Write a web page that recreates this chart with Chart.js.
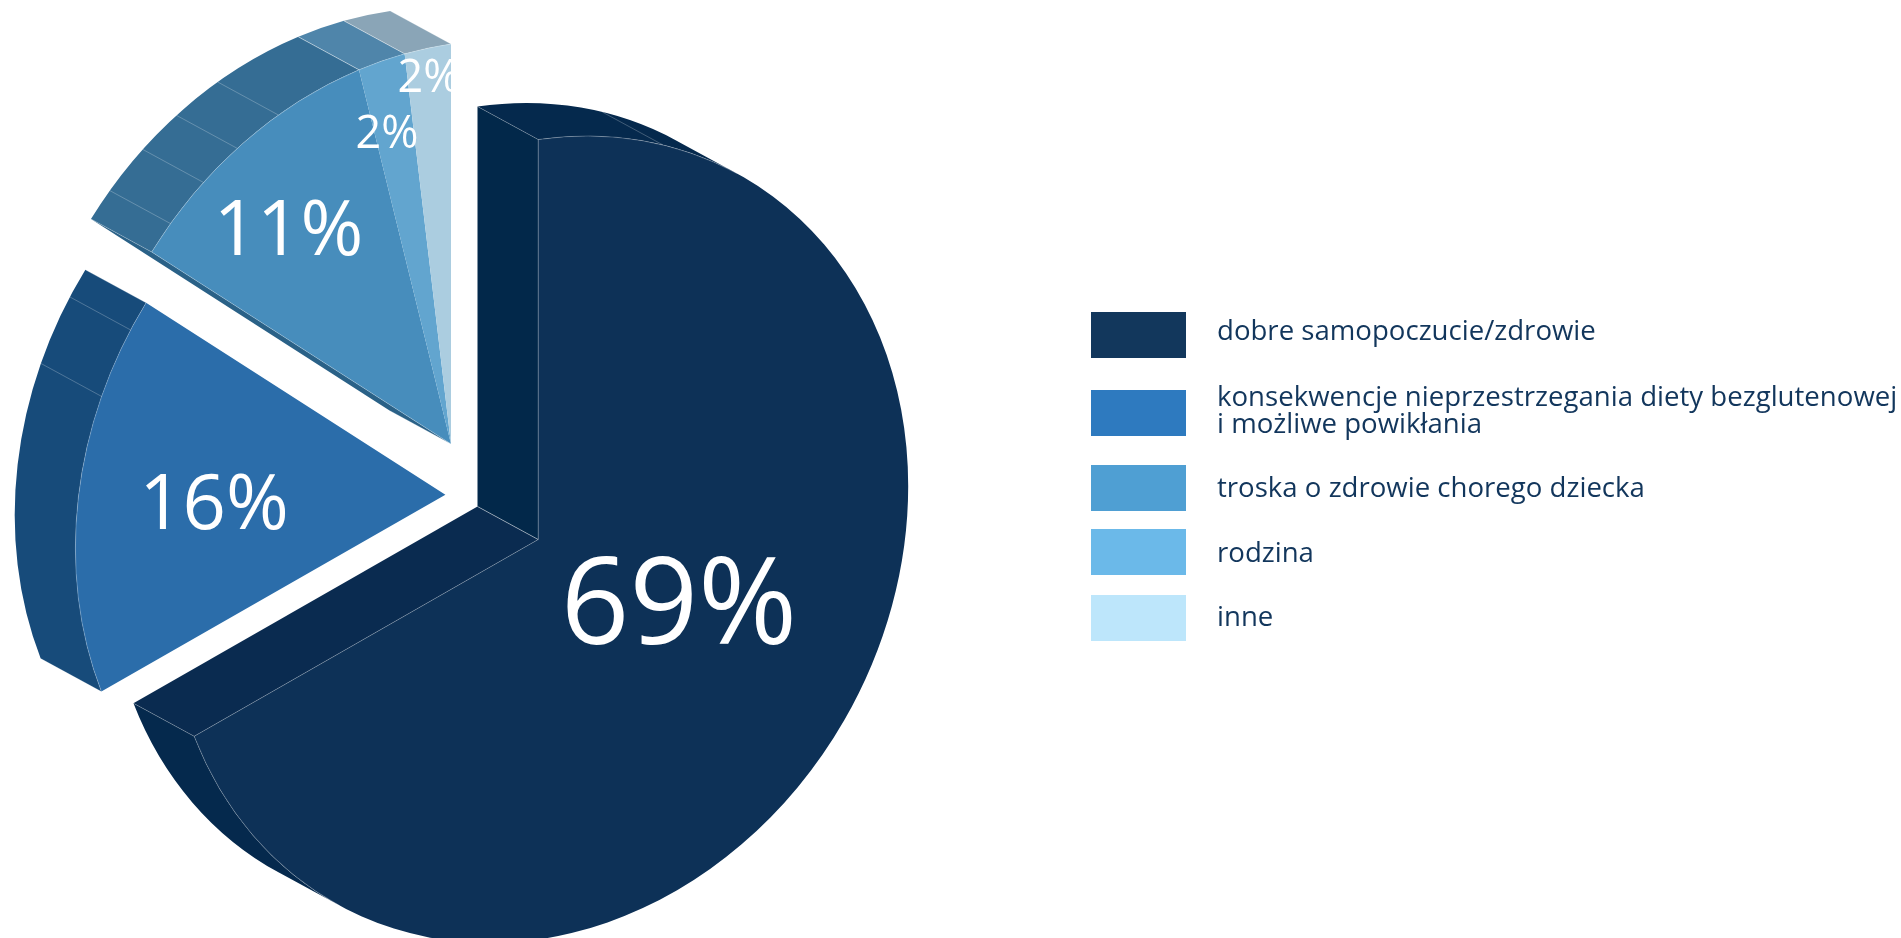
<!DOCTYPE html>
<html lang="pl">
<head>
<meta charset="utf-8">
<title>Wykres kołowy</title>
<script src="https://cdn.jsdelivr.net/npm/chart.js@4"></script>
<style>
  html, body { margin: 0; padding: 0; background: #fff; overflow: hidden; }
  canvas { display: block; }
</style>
</head>
<body>
<canvas id="pie" width="1901" height="938"></canvas>
<script>
'use strict';

// Chart data
const categories = [
  ['dobre samopoczucie/zdrowie'],
  ['konsekwencje nieprzestrzegania diety bezglutenowej', 'i możliwe powikłania'],
  ['troska o zdrowie chorego dziecka'],
  ['rodzina'],
  ['inne']
];
const shares = [69, 16, 11, 2, 2];

// Slice colours: top face, outer wall, legend swatch
const topColors = ['#0d3157', '#2b6daa', '#478dbc', '#62a5cf', '#abcde0'];
const wallColors = ['#05294d', '#174b7a', '#356d94', '#4f85aa', '#8aa5b7'];
const legendColors = ['#12375c', '#2e7abf', '#4f9fd3', '#6bb9e9', '#bde6fb'];
const legendTextColor = '#12365c';

// Flat side faces at each end of a slice (null where there is none to see)
const startFaceColors = ['#02284a', null, '#2a6187', null, null];
const endFaceColors = ['#0a2b50', null, null, null, null];

// Thin seams across the outer wall, degrees clockwise from twelve o'clock
const wallSeams = [[19.7], [291.7, 301.7], [310.7, 318, 324.7, 332.2], [], []];

// Tilted disc: where the horizontal and vertical radii end up on the page
const disc = { rx: 370, shear: -53.3, ry: 400 };
const depth = { x: -60.7, y: -33 };

// Page position of each slice's tip; the last three are pulled out as one block
const tips = [
  { x: 538.2, y: 539.5 },
  { x: 445.4, y: 494.8 },
  { x: 451, y: 444 },
  { x: 451, y: 444 },
  { x: 451, y: 444 }
];

const valueLabels = [
  { x: 679, y: 644, size: 120 },
  { x: 214, y: 529, size: 76 },
  { x: 288.5, y: 255, size: 76 },
  { x: 387, y: 148, size: 45 },
  { x: 429, y: 92, size: 45, clipRight: 451 }
];

const legendRows = [
  { top: 312, baselines: [340] },
  { top: 390, baselines: [406, 433] },
  { top: 465, baselines: [497] },
  { top: 529, baselines: [562] },
  { top: 595, baselines: [626] }
];
const swatch = { x: 1091, width: 95, height: 46 };
const legendTextX = 1217;
const FONT = '"Open Sans", sans-serif';
const SEAM = 'rgba(255,255,255,0.3)';

// Point the context at the tilted disc, with the chart's centre moved to (ox, oy)
function useDisc(ctx, arc, ox, oy) {
  const r = arc.outerRadius;
  const a = disc.rx / r, b = disc.shear / r, d = disc.ry / r;
  ctx.setTransform(a, b, 0, d, ox - a * arc.x, oy - b * arc.x - d * arc.y);
}

function rim(arc, angle) {
  return {
    x: arc.x + arc.outerRadius * Math.cos(angle),
    y: arc.y + arc.outerRadius * Math.sin(angle)
  };
}

// Parts of a slice whose outer wall faces the viewer
function visibleSpans(arc) {
  const ux = depth.x / disc.rx;
  const uy = (depth.y - disc.shear * ux) / disc.ry;
  const mid = Math.atan2(uy, ux);
  const spans = [];
  [-2 * Math.PI, 0, 2 * Math.PI].forEach(function (turn) {
    const from = Math.max(arc.startAngle, mid - Math.PI / 2 + turn);
    const to = Math.min(arc.endAngle, mid + Math.PI / 2 + turn);
    if (to > from) spans.push([from, to]);
  });
  return spans;
}

function drawWall(ctx, arc, tip, from, to, color) {
  useDisc(ctx, arc, tip.x, tip.y);
  ctx.beginPath();
  ctx.arc(arc.x, arc.y, arc.outerRadius, from, to);
  useDisc(ctx, arc, tip.x + depth.x, tip.y + depth.y);
  ctx.arc(arc.x, arc.y, arc.outerRadius, to, from, true);
  ctx.closePath();
  ctx.fillStyle = color;
  ctx.fill();
}

function drawFace(ctx, arc, tip, angle, color) {
  const p = rim(arc, angle);
  useDisc(ctx, arc, tip.x, tip.y);
  ctx.beginPath();
  ctx.moveTo(arc.x, arc.y);
  ctx.lineTo(p.x, p.y);
  useDisc(ctx, arc, tip.x + depth.x, tip.y + depth.y);
  ctx.lineTo(p.x, p.y);
  ctx.lineTo(arc.x, arc.y);
  ctx.closePath();
  ctx.fillStyle = color;
  ctx.fill();
}

// Add a line across the wall at one angle to the current path
function traceSeam(ctx, arc, tip, angle) {
  const p = rim(arc, angle);
  useDisc(ctx, arc, tip.x, tip.y);
  ctx.moveTo(p.x, p.y);
  useDisc(ctx, arc, tip.x + depth.x, tip.y + depth.y);
  ctx.lineTo(p.x, p.y);
}

function traceLines(ctx, arc, i) {
  const tip = tips[i];
  visibleSpans(arc).forEach(function (span) {
    useDisc(ctx, arc, tip.x, tip.y);
    const start = rim(arc, span[0]);
    ctx.moveTo(start.x, start.y);
    ctx.arc(arc.x, arc.y, arc.outerRadius, span[0], span[1]);
    // seam at the slice's own ends, not at the curve's silhouette
    if (span[0] === arc.startAngle) traceSeam(ctx, arc, tip, span[0]);
    if (span[1] === arc.endAngle) traceSeam(ctx, arc, tip, span[1]);
  });
  wallSeams[i].forEach(function (deg) {
    traceSeam(ctx, arc, tip, (deg - 90) * Math.PI / 180);
  });
  [[startFaceColors[i], arc.startAngle], [endFaceColors[i], arc.endAngle]].forEach(function (face) {
    if (!face[0]) return;
    const p = rim(arc, face[1]);
    useDisc(ctx, arc, tip.x, tip.y);
    ctx.moveTo(p.x, p.y);
    ctx.lineTo(arc.x, arc.y);
    useDisc(ctx, arc, tip.x + depth.x, tip.y + depth.y);
    ctx.lineTo(arc.x, arc.y);
  });
}

function drawValueLabels(ctx) {
  ctx.fillStyle = '#fff';
  ctx.textAlign = 'center';
  ctx.textBaseline = 'alphabetic';
  valueLabels.forEach(function (label, i) {
    ctx.save();
    if (label.clipRight) {
      ctx.beginPath();
      ctx.rect(0, 0, label.clipRight, 938);
      ctx.clip();
    }
    ctx.font = label.size + 'px ' + FONT;
    ctx.fillText(shares[i] + '%', label.x, label.y);
    ctx.restore();
  });
}

function drawLegend(ctx) {
  ctx.textAlign = 'left';
  ctx.textBaseline = 'alphabetic';
  ctx.font = '27.6px ' + FONT;
  categories.forEach(function (lines, i) {
    const row = legendRows[i];
    ctx.fillStyle = legendColors[i];
    ctx.fillRect(swatch.x, row.top, swatch.width, swatch.height);
    ctx.fillStyle = legendTextColor;
    lines.forEach(function (line, n) {
      ctx.fillText(line, legendTextX, row.baselines[n]);
    });
  });
}

// Replaces the flat pie drawing with the extruded, pulled-apart version
const extrudedPie = {
  id: 'extrudedPie',
  beforeDatasetsDraw(chart) {
    const ctx = chart.ctx;
    const arcs = chart.getDatasetMeta(0).data;
    ctx.save();

    arcs.forEach(function (arc, i) {
      if (startFaceColors[i]) drawFace(ctx, arc, tips[i], arc.startAngle, startFaceColors[i]);
      if (endFaceColors[i]) drawFace(ctx, arc, tips[i], arc.endAngle, endFaceColors[i]);
      visibleSpans(arc).forEach(function (span) {
        drawWall(ctx, arc, tips[i], span[0], span[1], wallColors[i]);
      });
    });

    arcs.forEach(function (arc, i) {
      useDisc(ctx, arc, tips[i].x, tips[i].y);
      arc.draw(ctx);
    });

    ctx.beginPath();
    arcs.forEach(function (arc, i) {
      traceLines(ctx, arc, i);
    });
    ctx.setTransform(1, 0, 0, 1, 0, 0);
    ctx.strokeStyle = SEAM;
    ctx.lineWidth = 0.8;
    ctx.stroke();

    drawValueLabels(ctx);
    drawLegend(ctx);
    ctx.restore();
    return false;
  }
};

new Chart(document.getElementById('pie').getContext('2d'), {
  type: 'pie',
  data: {
    labels: categories.map(function (lines) { return lines.join(' '); }),
    datasets: [{
      data: shares,
      backgroundColor: topColors,
      borderWidth: 0
    }]
  },
  options: {
    responsive: false,
    animation: false,
    devicePixelRatio: 1,
    events: [],
    plugins: {
      legend: { display: false },
      tooltip: { enabled: false }
    }
  },
  plugins: [extrudedPie]
});
</script>
</body>
</html>
